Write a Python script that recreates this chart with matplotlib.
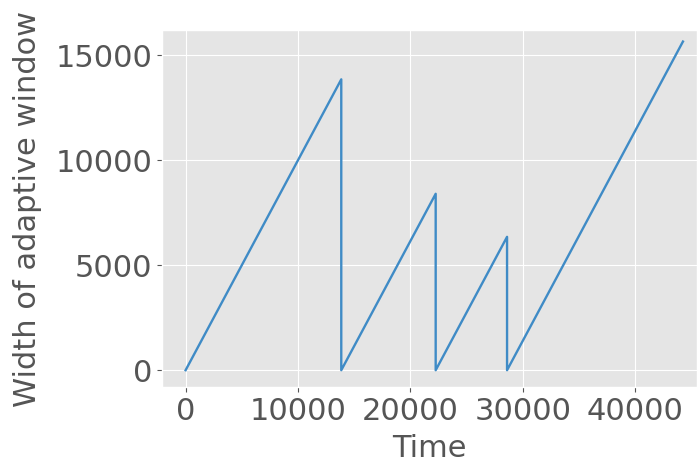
import matplotlib
matplotlib.use("Agg")
import matplotlib.pyplot as plt

plt.style.use("ggplot")

time_points = [0, 13850, 13850, 22250, 22250, 28600, 28600, 44250]
window_width = [0, 13850, 0, 8400, 0, 6350, 0, 15650]

fig = plt.figure(figsize=(6.97, 4.63), dpi=100)
ax = fig.add_axes([162/697, 1 - 387/463, (697 - 162)/697, (387 - 30)/463])
ax.plot(time_points, window_width, color="#3f8bc6", linewidth=1.7)
ax.set_xlim(-2100, 45500)
ax.set_ylim(-800, 16200)
ax.set_xticks([0, 10000, 20000, 30000, 40000])
ax.set_yticks([0, 5000, 10000, 15000])
ax.tick_params(labelsize=22, colors="#555555", labelcolor="#555555")
ax.set_xlabel("Time", fontsize=22, color="#555555", labelpad=6)
ax.set_ylabel("Width of adaptive window", fontsize=22, color="#555555", labelpad=10)
fig.savefig("out.png", dpi=100)
